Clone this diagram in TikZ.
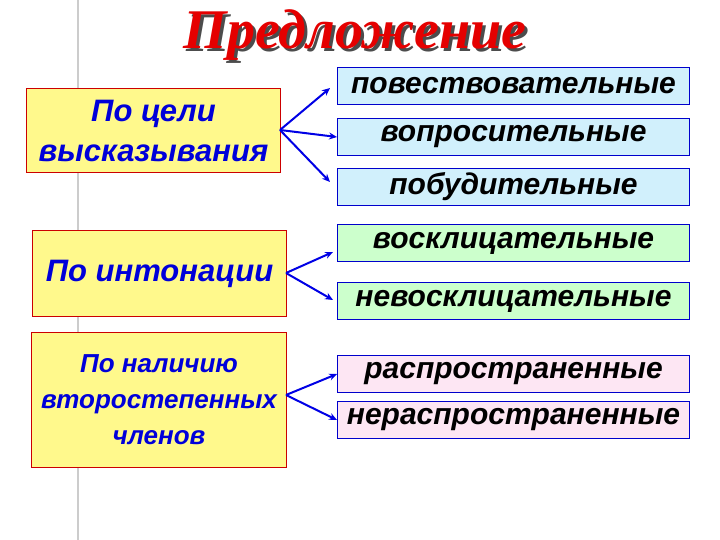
\documentclass[tikz,border=0pt]{standalone}
\usepackage{fontspec}
\usetikzlibrary{arrows.meta}
\setmainfont{Liberation Sans}
\newfontfamily\titlefont{Liberation Serif}
\begin{document}
\begin{tikzpicture}[x=1pt,y=-1pt,
 lbox/.style={draw=red!80!black,fill=yellow!45,line width=1pt,align=center,font=\bfseries\itshape\fontsize{31}{40}\selectfont,text=blue!85!black,anchor=north west,inner sep=0pt},
 rbox/.style={draw=blue!80!black,line width=1pt,font=\bfseries\itshape\fontsize{30}{34}\selectfont,anchor=north west,inner sep=0pt,minimum width=352pt,minimum height=37pt},
 arr/.style={draw=blue!90!black,line width=2pt,-{Stealth[length=8pt,width=7pt]}}]
\useasboundingbox (0,0) rectangle (720,540);
\draw[gray!40,line width=2pt] (78,0) -- (78,540);
\node[font=\titlefont\bfseries\itshape\fontsize{56}{60}\selectfont,text=black!70] (ts) at (358,38) {Предложение};
\node[font=\titlefont\bfseries\itshape\fontsize{56}{60}\selectfont,text=red!90!black] (t) at (355,35) {Предложение};
\node[lbox,minimum width=254pt,minimum height=84pt] (L1) at (26,88) {По цели\\высказывания};
\node[lbox,minimum width=254pt,minimum height=86pt] (L2) at (32,230) {По интонации};
\node[lbox,minimum width=255pt,minimum height=135pt,font=\bfseries\itshape\fontsize{26}{36}\selectfont] (L3) at (31,332) {По наличию\\второстепенных\\членов};
\node[rbox,fill=cyan!18] (a) at (337,67) {повествовательные};
\node[rbox,fill=cyan!18] (b) at (337,118) {вопросительные};
\node[rbox,fill=cyan!18] (c) at (337,168) {побудительные};
\node[rbox,fill=green!20] (d) at (337,224) {восклицательные};
\node[rbox,fill=green!20] (e) at (337,282) {невосклицательные};
\node[rbox,fill=magenta!10] (f) at (337,355) {распространенные};
\node[rbox,fill=magenta!10] (g) at (337,401) {нераспространенные};
\coordinate (o1) at (280,130);
\coordinate (o2) at (286,273);
\coordinate (o3) at (286,395);
\coordinate (ea) at (330,88);
\coordinate (ec) at (330,182);
\coordinate (ed) at (333,252);
\coordinate (ee) at (333,300);
\draw[arr] (o1) -- (ea);
\draw[arr] (o1) -- (b.west);
\draw[arr] (o1) -- (ec);
\draw[arr] (o2) -- (ed);
\draw[arr] (o2) -- (ee);
\draw[arr] (o3) -- (f.west);
\draw[arr] (o3) -- (g.west);
\end{tikzpicture}
\end{document}
